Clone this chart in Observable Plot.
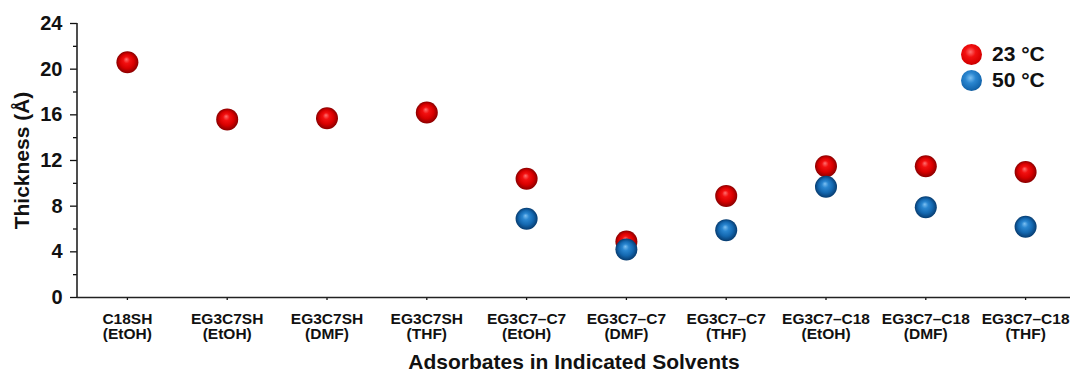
<!DOCTYPE html>
<html>
<head>
<meta charset="utf-8">
<script src="https://cdn.jsdelivr.net/npm/d3@7"></script>
<script src="https://cdn.jsdelivr.net/npm/@observablehq/plot@0.6"></script>
<style>
  html, body { margin: 0; padding: 0; background: white; overflow: hidden; }
  #wrap { position: relative; width: 1070px; height: 372px; font-family: "Liberation Sans", Arial, sans-serif; }
  #legend { position: absolute; left: 961px; top: 41px; font-weight: bold; font-size: 21px; color: #111; }
  .li { display: flex; align-items: center; height: 26px; }
  .ball { width: 21px; height: 21px; border-radius: 50%; margin-right: 10px; }
  .red { background: radial-gradient(circle at 45% 38%, #ff7070 0%, #f21010 30%, #d80000 65%, #8a0000 100%); }
  .blue { background: radial-gradient(circle at 45% 38%, #7cc0f2 0%, #2a86d0 30%, #1468b0 65%, #073c70 100%); }
</style>
</head>
<body>
<div id="wrap"><div id="legend"></div></div>
<script>
const adsorbates = ["C18SH", "EG3C7SH", "EG3C7SH", "EG3C7SH", "EG3C7–C7", "EG3C7–C7", "EG3C7–C7", "EG3C7–C18", "EG3C7–C18", "EG3C7–C18"];
const solvents   = ["EtOH", "EtOH", "DMF", "THF", "EtOH", "DMF", "THF", "EtOH", "DMF", "THF"];
const thick23    = [20.6, 15.6, 15.7, 16.2, 10.4, 4.9, 8.9, 11.5, 11.5, 11.0];
const thick50    = [null, null, null, null, 6.9, 4.2, 5.9, 9.7, 7.9, 6.2];
const seriesNames = ["23 °C", "50 °C"];
const yTicks = [0, 4, 8, 12, 16, 20, 24];
const yMinorTicks = [2, 6, 10, 14, 18, 22];

const cats = adsorbates.map((a, i) => `${a}\n(${solvents[i]})`);
const rows23 = cats.map((c, i) => ({cat: c, v: thick23[i]})).filter(d => d.v != null);
const rows50 = cats.map((c, i) => ({cat: c, v: thick50[i]})).filter(d => d.v != null);

const chart = Plot.plot({
  width: 1070, height: 372,
  marginLeft: 77, marginRight: 0, marginTop: 23, marginBottom: 75,
  style: {fontFamily: "'Liberation Sans', Arial, sans-serif", background: "white", color: "#111", overflow: "visible"},
  x: {type: "point", domain: cats, range: [77, 1075], padding: 0.5, round: false, label: null},
  y: {domain: [0, 24], label: null},
  marks: [
    Plot.axisY({ticks: yTicks, tickSize: 7, tickPadding: 8, fontSize: 20, fontWeight: "bold", strokeWidth: 1.3, label: null}),
    Plot.axisY({ticks: yMinorTicks, tickSize: 4, tickFormat: () => "", strokeWidth: 1.3, label: null}),
    Plot.axisX({tickSize: 3, tickPadding: 12, fontSize: 15.5, fontWeight: "bold", lineHeight: 1.0, strokeWidth: 1.3, label: null}),
    Plot.ruleY([0], {strokeWidth: 1.6, stroke: "#222"}),
    Plot.text(["Thickness (Å)"], {frameAnchor: "left", textAnchor: "middle", lineAnchor: "middle", dx: -55, rotate: -90, fontSize: 21, fontWeight: "bold", fill: "#111"}),
    Plot.text(["Adsorbates in Indicated Solvents"], {frameAnchor: "bottom", textAnchor: "middle", lineAnchor: "middle", dy: 65, fontSize: 21, fontWeight: "bold", fill: "#111"}),
    Plot.dot(rows23, {x: "cat", y: "v", r: 11, fill: "url(#gRed)", stroke: "none"}),
    Plot.dot(rows50, {x: "cat", y: "v", r: 11, fill: "url(#gBlue)", stroke: "none"})
  ]
});

// gradients for sphere look
const svg = d3.select(chart);
const defs = svg.insert("defs", ":first-child");
function grad(id, stops) {
  const g = defs.append("radialGradient").attr("id", id)
    .attr("cx", "50%").attr("cy", "50%").attr("r", "50%").attr("fx", "45%").attr("fy", "36%");
  stops.forEach(([o, c]) => g.append("stop").attr("offset", o).attr("stop-color", c));
}
grad("gRed", [["0%", "#ff7070"], ["30%", "#f21010"], ["65%", "#d80000"], ["100%", "#8a0000"]]);
grad("gBlue", [["0%", "#7cc0f2"], ["30%", "#2a86d0"], ["65%", "#1468b0"], ["100%", "#073c70"]]);

// left axis line
const y = chart.scale("y");
svg.append("line")
  .attr("x1", 77).attr("x2", 77)
  .attr("y1", y.apply(0)).attr("y2", y.apply(24))
  .attr("stroke", "#222").attr("stroke-width", 1.6);

document.getElementById("wrap").prepend(chart);

const legend = document.getElementById("legend");
seriesNames.forEach((n, i) => {
  const row = document.createElement("div");
  row.className = "li";
  row.innerHTML = `<div class="ball ${i === 0 ? "red" : "blue"}"></div><span>${n}</span>`;
  legend.appendChild(row);
});
</script>
</body>
</html>
